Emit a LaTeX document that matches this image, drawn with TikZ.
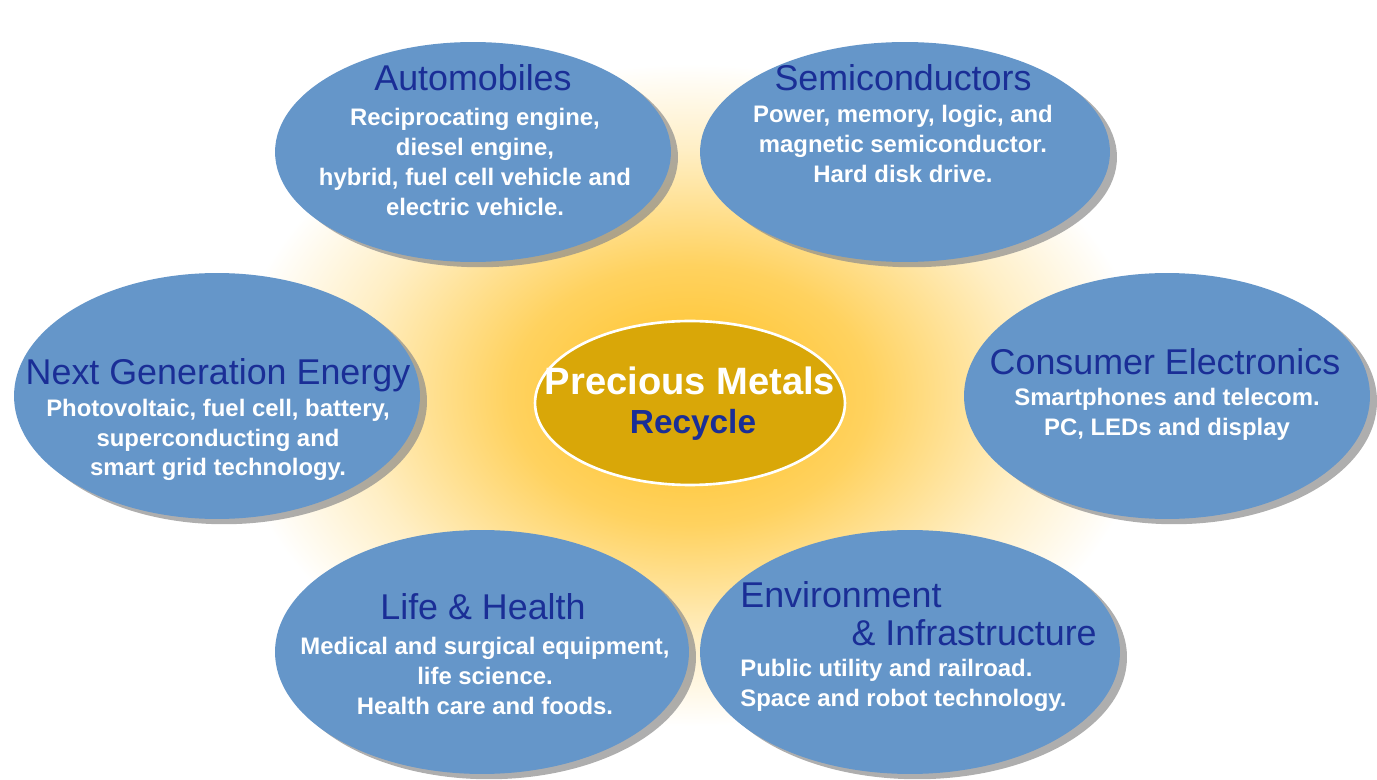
\documentclass[tikz,border=0pt]{standalone}
\usepackage{fontspec}
\setmainfont{Liberation Sans}
\usetikzlibrary{shapes.geometric, shadows}
\definecolor{bubblec}{RGB}{101,150,201}
\definecolor{navy}{RGB}{26,46,150}
\definecolor{gold}{RGB}{217,167,8}
\definecolor{glow}{RGB}{255,200,60}
\pgfdeclareradialshading{glowshade}{\pgfpoint{0bp}{0bp}}{color(0bp)=(glow); color(4bp)=(glow); color(9bp)=(glow!82!white); color(17bp)=(glow!30!white); color(23bp)=(white); color(50bp)=(white)}
\tikzstyle{bubble} = [ellipse, fill=bubblec, drop shadow={shadow xshift=4pt, shadow yshift=-3pt, fill=black!45, opacity=0.7}]
\tikzstyle{title} = [text=navy, inner sep=0pt, font=\fontsize{20.4}{24}\selectfont]
\tikzstyle{body} = [text=white, align=center, inner sep=0pt, font=\bfseries\fontsize{13.6}{17}\selectfont]

\begin{document}
\begin{tikzpicture}[x=0.02cm, y=-0.02cm]
\useasboundingbox (0,0) rectangle (1377,780);

% --------- glow ----------
\begin{scope}
\clip (0,0) rectangle (1377,780);
\shade[shading=glowshade] (690,395) ellipse [x radius=500, y radius=360];
\end{scope}

% --------- bubbles ----------
\node (auto)     [bubble, minimum width=7.92cm, minimum height=4.4cm] at (473,152) {};
\node (semi)     [bubble, minimum width=8.2cm,  minimum height=4.4cm] at (905,152) {};
\node (energy)   [bubble, minimum width=8.12cm, minimum height=4.92cm] at (217,396) {};
\node (consumer) [bubble, minimum width=8.12cm, minimum height=4.92cm] at (1167,396) {};
\node (life)     [bubble, minimum width=8.28cm, minimum height=4.88cm] at (482,652) {};
\node (env)      [bubble, minimum width=8.4cm,  minimum height=4.88cm] at (910,652) {};

% --------- centre ----------
\node (core) [ellipse, fill=gold, draw=white, line width=1.5pt, minimum width=6.2cm, minimum height=3.28cm] at (690,403) {};
\node (coreT) [text=white, font=\bfseries\fontsize{21.7}{24}\selectfont] at (690,381) {Precious Metals};
\node (coreR) [text=navy, font=\bfseries\fontsize{19}{22}\selectfont] at (693,425) {Recycle};

% --------- texts ----------
\node (autoT) [title] at (473,78) {Automobiles};
\node (autoB) [body] at (475,162) {Reciprocating engine,\\diesel engine,\\hybrid, fuel cell vehicle and\\electric vehicle.};

\node (semiT) [title] at (903,78) {Semiconductors};
\node (semiB) [body] at (903,144) {Power, memory, logic, and\\magnetic semiconductor.\\Hard disk drive.};

\node (energyT) [title] at (218,375) {Next Generation Energy};
\node (energyB) [body] at (218,440) {Photovoltaic, fuel cell, battery,\\superconducting and\\smart grid technology.};

\node (consumerT) [title] at (1165,362) {Consumer Electronics};
\node (consumerB) [body] at (1167,414) {Smartphones and telecom.\\PC, LEDs and display};

\node (lifeT) [title] at (483,607) {Life \& Health};
\node (lifeB) [body] at (485,676) {Medical and surgical equipment,\\life science.\\Health care and foods.};

\node (envT) [title, anchor=west] at (740,595) {Environment};
\node (envI) [title, anchor=east] at (1097,633) {\& Infrastructure};
\node (envB) [body, align=left, anchor=west] at (740,685) {Public utility and railroad.\\Space and robot technology.};

\end{tikzpicture}
\end{document}
